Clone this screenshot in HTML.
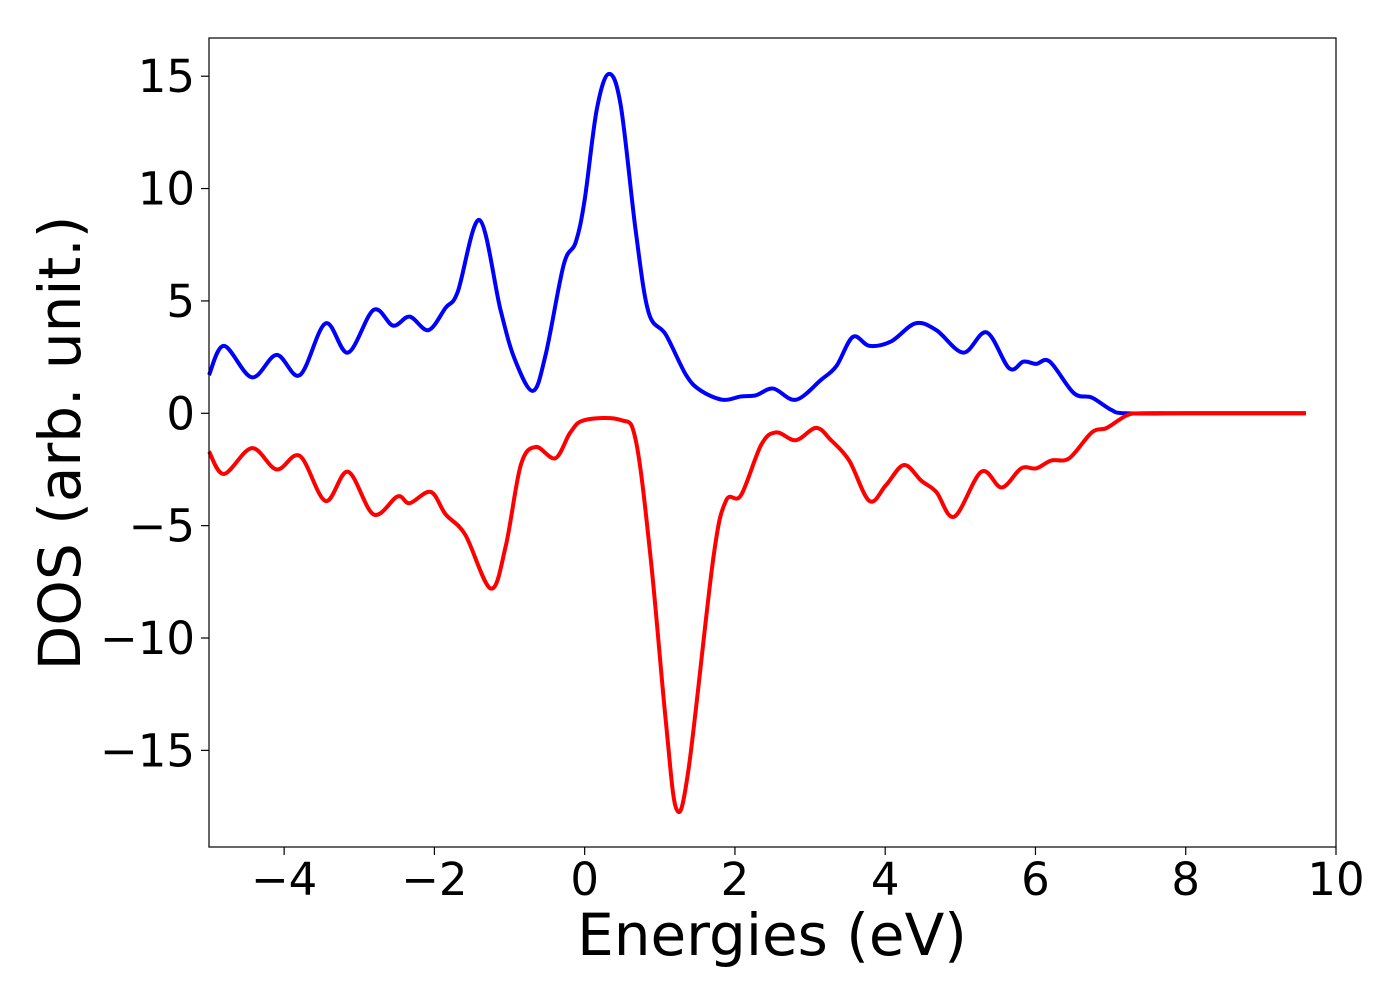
<!DOCTYPE html>
<html><head><meta charset="utf-8"><style>
html,body{margin:0;padding:0;background:#fff;}
svg{display:block;font-family:"DejaVu Sans","Liberation Sans",sans-serif;}
</style></head><body>
<svg id="chart" width="1400" height="1000" viewBox="0 0 1400 1000">
<rect x="0" y="0" width="1400" height="1000" fill="#fff"/>
<g id="ticks"></g>
<g id="series"></g>
<rect x="209" y="38" width="1127" height="809" fill="none" stroke="#000" stroke-width="1.2"/>
<text x="772" y="955" font-size="58" text-anchor="middle">Energies (eV)</text>
<text transform="translate(80,443) rotate(-90)" font-size="58" text-anchor="middle">DOS (arb. unit.)</text>
</svg>
<script>
const xTicks = [-4, -2, 0, 2, 4, 6, 8, 10];
const yTicks = [-15, -10, -5, 0, 5, 10, 15];
const upEnergy = [-5,-4.8,-4.43,-4.1,-3.79,-3.45,-3.15,-2.81,-2.55,-2.33,-2.08,-1.85,-1.69,-1.4,-1.12,-0.93,-0.69,-0.52,-0.28,-0.12,0,0.16,0.32,0.48,0.68,0.85,1.08,1.35,1.55,1.84,2.08,2.28,2.51,2.81,3.15,3.35,3.57,3.79,4.08,4.4,4.68,5.04,5.35,5.65,5.84,6.01,6.19,6.51,6.75,7.01,7.2,8,9.6];
const upDos = [1.7,3.0,1.6,2.6,1.7,4.0,2.7,4.6,3.9,4.3,3.7,4.7,5.4,8.6,4.6,2.4,1.0,2.6,6.6,7.6,9.5,13.5,15.1,13.7,8.1,4.5,3.5,1.7,1.0,0.6,0.75,0.8,1.1,0.6,1.5,2.1,3.4,3.0,3.2,4.0,3.7,2.7,3.6,2.0,2.3,2.2,2.3,0.9,0.7,0.15,0,0,0];
const downEnergy = [-5,-4.8,-4.43,-4.1,-3.79,-3.45,-3.15,-2.81,-2.49,-2.33,-2.05,-1.85,-1.59,-1.25,-1.05,-0.85,-0.65,-0.39,-0.19,0,0.48,0.68,0.88,1.08,1.22,1.38,1.71,1.88,2.08,2.35,2.55,2.81,3.08,3.28,3.52,3.79,4.01,4.25,4.48,4.68,4.92,5.28,5.55,5.81,6.01,6.21,6.45,6.75,6.95,7.21,7.41,8,9.6];
const downDos = [-1.7,-2.7,-1.55,-2.5,-1.9,-3.9,-2.6,-4.5,-3.7,-4.0,-3.5,-4.5,-5.4,-7.8,-5.9,-2.3,-1.5,-2.0,-0.85,-0.3,-0.3,-1.2,-6.5,-13.7,-17.6,-15.9,-6.5,-3.9,-3.65,-1.4,-0.85,-1.2,-0.65,-1.2,-2.1,-3.9,-3.2,-2.3,-3.0,-3.5,-4.6,-2.6,-3.3,-2.45,-2.45,-2.1,-2.0,-0.85,-0.65,-0.1,0,0,0];

const X0=209, X1=1336, Y0=38, Y1=847;
const xMin=-5, xMax=10, yMin=-19.3, yMax=16.7;
function sx(v){return X0+(v-xMin)/(xMax-xMin)*(X1-X0);}
function sy(v){return Y1-(v-yMin)/(yMax-yMin)*(Y1-Y0);}
const NS="http://www.w3.org/2000/svg";
function fmt(v){return v<0?"\u2212"+Math.abs(v):String(v);}
const tg=document.getElementById("ticks");
xTicks.forEach(t=>{
  const x=sx(t);
  const l=document.createElementNS(NS,"line");
  l.setAttribute("x1",x);l.setAttribute("x2",x);l.setAttribute("y1",Y1);l.setAttribute("y2",Y1+8);
  l.setAttribute("stroke","#000");l.setAttribute("stroke-width","1.2");
  
  
  tg.appendChild(l);
  const tx=document.createElementNS(NS,"text");
  tx.setAttribute("x",x);tx.setAttribute("y",Y1+48);tx.setAttribute("font-size","45");tx.setAttribute("text-anchor","middle");
  tx.textContent=fmt(t);
  
  
  tg.appendChild(tx);
});
yTicks.forEach(t=>{
  const y=sy(t);
  const l=document.createElementNS(NS,"line");
  l.setAttribute("x1",X0-8);l.setAttribute("x2",X0);l.setAttribute("y1",y);l.setAttribute("y2",y);
  l.setAttribute("stroke","#000");l.setAttribute("stroke-width","1.2");
  
  
  tg.appendChild(l);
  const tx=document.createElementNS(NS,"text");
  tx.setAttribute("x",X0-14);tx.setAttribute("y",y+16);tx.setAttribute("font-size","45");tx.setAttribute("text-anchor","end");
  tx.textContent=fmt(t);
  
  
  tg.appendChild(tx);
});
function smoothPath(xs,ys){
  const p=xs.map((x,i)=>[sx(x),sy(ys[i])]);
  let d="M"+p[0][0]+","+p[0][1];
  for(let i=0;i<p.length-1;i++){
    const a=p[Math.max(0,i-1)],b=p[i],c=p[i+1],e=p[Math.min(p.length-1,i+2)];
    const c1x=b[0]+(c[0]-a[0])/6, c1y=b[1]+(c[1]-a[1])/6;
    const c2x=c[0]-(e[0]-b[0])/6, c2y=c[1]-(e[1]-b[1])/6;
    d+=" C"+c1x+","+c1y+" "+c2x+","+c2y+" "+c[0]+","+c[1];
  }
  return d;
}
const sg=document.getElementById("series");
const up=document.createElementNS(NS,"path");
up.setAttribute("d",smoothPath(upEnergy,upDos));
up.setAttribute("fill","none");up.setAttribute("stroke","#0000ff");up.setAttribute("stroke-width","4");


sg.appendChild(up);
const dn=document.createElementNS(NS,"path");
dn.setAttribute("d",smoothPath(downEnergy,downDos));
dn.setAttribute("fill","none");dn.setAttribute("stroke","#ff0000");dn.setAttribute("stroke-width","4");


sg.appendChild(dn);
</script>
</body></html>
